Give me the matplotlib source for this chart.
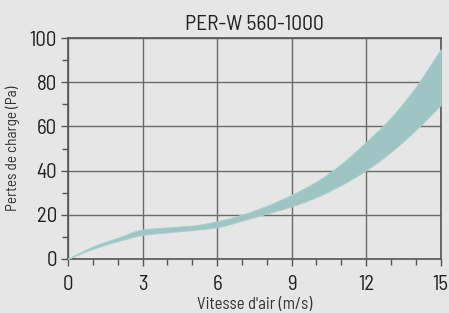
import matplotlib
matplotlib.use("Agg")
import matplotlib.pyplot as plt
import numpy as np

title = "PER-W 560-1000"
xlabel = "Vitesse d'air (m/s)"
ylabel = "Pertes de charge (Pa)"
speed = [0, 1, 2, 3, 4, 5, 6, 7, 8, 9, 10, 11, 12, 13, 14, 15]
upper = [0, 5.5, 9.5, 13.2, 14.2, 15.0, 17.0, 20.0, 24.0, 29.0, 35.0, 43.0, 53.0, 64.0, 78.0, 95.0]
lower = [0, 4.5, 8.0, 10.8, 12.0, 13.0, 14.3, 17.3, 20.5, 23.8, 28.0, 33.5, 40.2, 48.5, 58.5, 69.7]
xticks = [0, 3, 6, 9, 12, 15]
yticks = [0, 20, 40, 60, 80, 100]

bg = "#e6e6e6"
band = "#9cc5c3"

plt.rcParams["font.family"] = ["Barlow Semi Condensed", "DejaVu Sans"]

fig = plt.figure(figsize=(4.49, 3.13), dpi=100, facecolor=bg)
ax = fig.add_axes([68 / 449, 1 - 258.7 / 313, (440.7 - 68) / 449, (258.7 - 38.3) / 313])
ax.set_facecolor(bg)

xs = np.linspace(0, 15, 300)

def smooth(x, y):
    # monotone cubic interpolation through the read points
    x = np.asarray(x, float); y = np.asarray(y, float)
    h = np.diff(x); d = np.diff(y) / h
    m = np.zeros_like(y)
    m[0] = d[0]; m[-1] = d[-1]
    for i in range(1, len(y) - 1):
        if d[i - 1] * d[i] <= 0:
            m[i] = 0
        else:
            w1 = 2 * h[i] + h[i - 1]; w2 = h[i] + 2 * h[i - 1]
            m[i] = (w1 + w2) / (w1 / d[i - 1] + w2 / d[i])
    out = np.empty_like(xs)
    for k, xv in enumerate(xs):
        i = min(np.searchsorted(x, xv, side="right") - 1, len(x) - 2)
        t = (xv - x[i]) / h[i]
        h00 = 2 * t**3 - 3 * t**2 + 1; h10 = t**3 - 2 * t**2 + t
        h01 = -2 * t**3 + 3 * t**2; h11 = t**3 - t**2
        out[k] = h00 * y[i] + h10 * h[i] * m[i] + h01 * y[i + 1] + h11 * h[i] * m[i + 1]
    return out

up = smooth(speed, upper)
lo = smooth(speed, lower)
ax.fill_between(xs, lo, up, color=band, linewidth=0.8, edgecolor="#a8cfcc", zorder=3)

ax.set_xlim(0, 15)
ax.set_ylim(0, 100)
ax.set_xticks(xticks)
ax.set_yticks(yticks)
ax.set_xticks(np.arange(0, 16, 1), minor=True)
ax.set_yticks(np.arange(0, 101, 10), minor=True)
ax.grid(True, which="major", color="#6a6a6a", linewidth=1.0, zorder=1)
ax.set_axisbelow(True)
for s in ax.spines.values():
    s.set_color("#555555")
    s.set_linewidth(1.2)
ax.tick_params(which="major", length=5, width=1, color="#555555", labelsize=15, labelcolor="#222222", pad=3)
ax.tick_params(axis="x", which="major", pad=7)
ax.tick_params(which="minor", length=4, width=1, color="#555555")

ax.set_title(title, fontsize=15.5, color="#222222", pad=6)
ax.set_xlabel(xlabel, fontsize=12, color="#333333", labelpad=2)
ax.set_ylabel(ylabel, fontsize=11, color="#333333", labelpad=7)

fig.savefig("out.png", dpi=100, facecolor=bg)
